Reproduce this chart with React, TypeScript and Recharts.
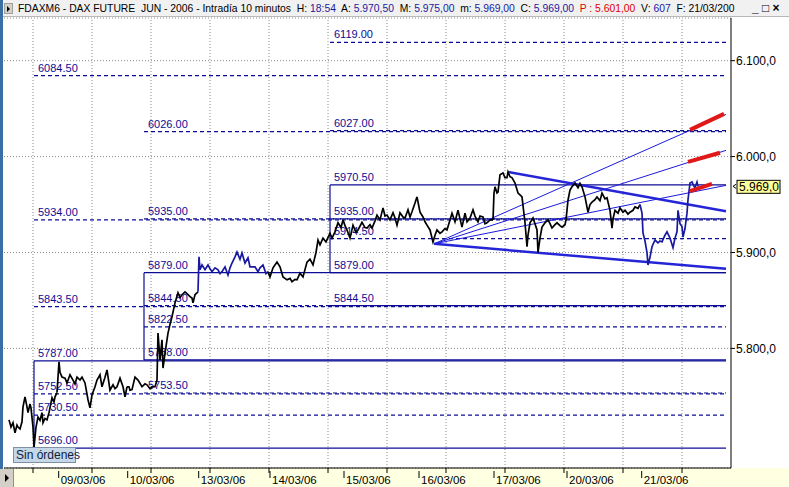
import React from 'react';
import { ComposedChart, Line, XAxis, YAxis, CartesianGrid, ReferenceLine, ReferenceDot } from 'recharts';

const FONT = '"Liberation Sans", Arial, sans-serif';

// ---------- axis data ----------
const dateTicks = [58.7, 127.7, 198.7, 270, 344, 419, 494, 567, 641.7];
const dateLabels = ['09/03/06', '10/03/06', '13/03/06', '14/03/06', '15/03/06', '16/03/06', '17/03/06', '20/03/06', '21/03/06'];
const gridTimes = [33, 92, 151, 210, 269, 328, 387, 446, 505, 564, 623, 682];
const priceTicks = [5800, 5900, 6000, 6100];

// ---------- price trace (time slot, price) per session ----------
const s0803 = [[9,5725.5],[11,5718],[13,5722.5],[15,5712],[17,5720],[18,5718],[20,5716],[22,5723.5],[23,5739],[25,5749.5],[27,5739],[28,5733],[30,5742],[31,5738],[33,5718],[34,5697],[36,5718],[38,5728.5],[40,5725],[42,5733],[43,5722.5],[45,5727],[47,5725.5],[49,5733],[52,5748.5],[54,5744],[55,5749.5],[57,5754]];
const s0903 = [[59,5786],[60,5775],[62,5770],[65,5769],[67,5764],[70,5772.5],[73,5767],[75,5763],[77,5770],[80,5767],[82,5770],[85,5764],[88,5746.5],[90,5738],[92,5751.5],[95,5760],[97,5767],[100,5772.5],[102,5760],[105,5770],[107,5777.5],[110,5756.5],[113,5762],[115,5758],[117,5760],[120,5769],[123,5760],[125,5749.5],[127,5760]];
const s1003 = [[129,5760],[130,5756.5],[132,5757],[135,5770],[138,5767],[142,5760],[145,5763],[147,5762],[150,5758],[152,5760],[155,5760],[157,5767],[158,5816],[160,5788],[162,5809],[163,5779.5],[165,5795],[168,5816],[170,5825],[172,5833],[175,5847.5],[178,5858],[180,5853],[182,5856],[185,5859],[188,5856],[190,5854],[192,5852.5],[193,5847.5],[195,5856],[198,5859]];
const s1303 = [[199,5895.5],[200,5882],[202,5887],[205,5882],[208,5887],[210,5883],[212,5880],[215,5884],[218,5882],[220,5878],[222,5880],[225,5885],[228,5876.5],[230,5884],[232,5889],[235,5895.5],[237,5900.5],[240,5893],[242,5899.5],[245,5889],[248,5894.5],[250,5885],[252,5885],[255,5885],[258,5880],[260,5884],[263,5887],[266,5878],[268,5880]];
const s1403 = [[270,5874.5],[273,5884],[277,5890],[280,5885],[283,5874.5],[287,5871.5],[290,5873],[292,5869.5],[295,5872],[297,5871.5],[300,5878.5],[303,5874.5],[307,5890],[310,5893],[313,5887],[316,5900],[318,5913],[320,5908],[323,5915],[326,5911],[330,5920],[332,5915],[335,5921.5],[338,5931],[341,5926],[343,5934]];
const s1503 = [[345,5928],[347,5923.5],[350,5915],[353,5928.5],[356,5921],[358,5923.5],[362,5931.5],[365,5926],[367,5925.5],[370,5929],[372,5925.5],[375,5933],[377,5939],[380,5934],[383,5946.5],[385,5938],[387,5939],[390,5934],[393,5941.5],[395,5936],[397,5928.5],[400,5941.5],[403,5937],[405,5936],[408,5944.5],[410,5937],[412,5942.5],[415,5951.5],[417,5958]];
const s1603 = [[420,5942],[423,5937],[425,5932],[427,5928.5],[430,5923.5],[433,5911],[435,5918],[437,5923.5],[440,5920],[442,5921.5],[445,5925],[447,5923.5],[450,5934],[452,5941],[455,5932],[458,5944],[460,5935],[462,5926.5],[465,5941],[467,5932],[470,5936],[473,5944.5],[475,5938],[478,5932],[480,5938],[483,5937],[485,5930],[487,5931],[490,5934],[493,5934]];
const s1703 = [[494,5962],[495,5968.5],[497,5962],[498,5963],[500,5981],[503,5983],[505,5978],[507,5978],[508,5984],[510,5979],[512,5978],[515,5972.5],[518,5962],[520,5960],[522,5958],[524,5940],[525,5931],[527,5906],[528,5918],[530,5931],[533,5936],[535,5930],[537,5923.5],[538,5900],[540,5915],[542,5926.5],[545,5931],[548,5934],[550,5930],[552,5925.5],[555,5929],[557,5931],[560,5928],[562,5926.5],[565,5929],[566,5934]];
const s2003 = [[568,5954.5],[570,5965],[572,5968.5],[575,5972.5],[578,5967.5],[580,5972],[582,5968.5],[585,5958],[588,5942],[590,5950],[592,5952.5],[595,5955],[597,5958],[600,5954],[602,5962],[605,5956],[607,5957],[610,5944],[612,5925.5],[613,5935],[615,5944],[618,5941],[620,5946.5],[623,5942],[625,5944],[628,5940],[630,5942],[633,5944],[635,5947.5],[638,5946],[640,5950]];
const s2103 = [[642,5941],[643,5920.5],[645,5912],[647,5900],[648,5887],[650,5895],[652,5906],[655,5913],[658,5910],[660,5912],[662,5911],[665,5918],[667,5921.5],[670,5915],[673,5905],[675,5915],[677,5921.5],[678,5944],[680,5930],[682,5927],[683,5916],[685,5925],[687,5941],[688,5955],[690,5972.5],[692,5973.5],[694,5969],[695,5967.5],[697,5973.5],[698,5969]];

const sessionNames = ['08/03/06', '09/03/06', '10/03/06', '13/03/06', '14/03/06', '15/03/06', '16/03/06', '17/03/06', '20/03/06', '21/03/06'];
const sessionTrades = [s0803, s0903, s1003, s1303, s1403, s1503, s1603, s1703, s2003, s2103];
const blueSessions = ['13/03/06', '21/03/06'];

// ---------- retracement boxes ----------
const boxStarts = [34, 144, 330];
const boxHighs = [5787, 5879, 5970.5];
const boxLows = [5696, 5788, 5879];
const boxLevels = [
  [6084.5, 5934, 5843.5, 5752.5, 5730.5],
  [6026, 5935, 5844.5, 5822.5, 5753.5],
  [6119, 6027, 5935, 5914.5, 5844.5],
];
const levelEnd = 726;

// ---------- trend lines ----------
const fanOrigin = [434, 5909];
const fanEnds = [[726, 6044], [726, 6006.5], [726, 5970]];
const wedgeUpper = [[508, 5984], [726, 5943]];
const wedgeLower = [[434, 5909], [726, 5883]];
const redMarks = [
  [[690, 6027.8], [724, 6044.5]],
  [[688, 5994.5], [720, 6004]],
  [[690, 5964], [712, 5971.5]],
];

const NAVY = '#0c0c94';

const fmtPrice = (v: number) => {
  const i = Math.round(v);
  return `${Math.floor(i / 1000)}.${String(i % 1000).padStart(3, '0')},0`;
};

const xTickValues = [...gridTimes, ...dateTicks].sort((a, b) => a - b);

const XTick = (props: any) => {
  const { x, y, payload } = props;
  const idx = dateTicks.indexOf(payload.value);
  if (idx < 0) return <line x1={x} x2={x} y1={y} y2={y + 5} stroke="#000" strokeWidth={1} />;
  return (
    <g>
      <line x1={x} x2={x} y1={y + 3} y2={y + 10} stroke="#000" strokeWidth={1} />
      <text x={x + 2} y={y + 16} fontSize={11.5} fontFamily={FONT} fill="#000">{dateLabels[idx]}</text>
    </g>
  );
};

const levelLabel = (text: string) => (p: any) => {
  const vb = p.viewBox || {};
  return (
    <text x={vb.x + 4} y={vb.y - 4} fontSize={11} fontFamily={FONT} fill={NAVY}>{text}</text>
  );
};

const PriceTag = (props: any) => {
  const { cx, cy, value } = props;
  return (
    <g>
      <path d={`M${cx + 5} ${cy - 2} L${cx + 2} ${cy} L${cx + 5} ${cy + 2}`} stroke="#000" fill="none" strokeWidth={1} />
      <rect x={cx + 6} y={cy - 6} width={43} height={13} fill="#ffff9c" stroke="#000" strokeWidth={1} />
      <text x={cx + 8} y={cy + 4.5} fontSize={12} fontFamily={FONT} fill="#000">{fmtPrice(value)}</text>
    </g>
  );
};

const lastSession = sessionTrades[sessionTrades.length - 1];
const lastPrice = lastSession[lastSession.length - 1][1];

export default function App() {
  const sessionLines = sessionTrades.map((pts, i) => {
    const prev = i > 0 ? [sessionTrades[i - 1][sessionTrades[i - 1].length - 1]] : [];
    const data = [...prev, ...pts].map(([t, p]) => ({ t, p }));
    const color = blueSessions.includes(sessionNames[i]) ? '#1818a0' : '#000000';
    return (
      <Line key={'s' + i} data={data} dataKey="p" type="linear" stroke={color} strokeWidth={1.7}
        dot={false} isAnimationActive={false} />
    );
  });

  const lvlLines: any[] = [];
  boxStarts.forEach((start, b) => {
    lvlLines.push(
      <ReferenceLine key={'bh' + b} segment={[{ x: start, y: boxHighs[b] }, { x: levelEnd, y: boxHighs[b] }]}
        stroke={NAVY} strokeWidth={1.2} label={levelLabel(boxHighs[b].toFixed(2))} />,
      <ReferenceLine key={'bl' + b} segment={[{ x: start, y: boxLows[b] }, { x: levelEnd, y: boxLows[b] }]}
        stroke={NAVY} strokeWidth={1.2} label={levelLabel(boxLows[b].toFixed(2))} />,
      <ReferenceLine key={'bv' + b} segment={[{ x: start, y: boxLows[b] }, { x: start, y: boxHighs[b] }]}
        stroke={NAVY} strokeWidth={1.2} />,
    );
    boxLevels[b].forEach((v, j) => {
      lvlLines.push(
        <ReferenceLine key={'lv' + b + '_' + j} segment={[{ x: start, y: v }, { x: levelEnd, y: v }]}
          stroke={NAVY} strokeWidth={1.2} strokeDasharray="4 3" label={levelLabel(v.toFixed(2))} />,
      );
    });
  });

  return (
    <div style={{ position: 'fixed', left: 0, top: 0, width: 789, height: 487, overflow: 'hidden', background: '#fff', fontFamily: FONT }}>
      {/* bottom axis band */}
      <div style={{ position: 'absolute', left: 0, top: 468, width: 789, height: 19, background: '#ffffe1' }} />
      <div style={{ position: 'absolute', left: 0, top: 0 }}>
        <ComposedChart width={789} height={487} margin={{ top: 18, left: 4, right: 0, bottom: 0 }}>
          <CartesianGrid vertical={false} stroke="#8a8a8a" strokeDasharray="1 2" />
          <XAxis type="number" dataKey="t" domain={[4, 731]} allowDataOverflow ticks={xTickValues} interval={0}
            tick={<XTick />} tickLine={false} tickSize={0} tickMargin={0} height={19} axisLine={{ stroke: '#000' }} />
          <YAxis orientation="right" type="number" domain={[5675.3, 6144.5]} allowDataOverflow ticks={priceTicks}
            tickFormatter={fmtPrice} width={58} tickSize={4} tickMargin={1}
            tick={{ fontSize: 12, fill: '#000', fontFamily: FONT }} tickLine={{ stroke: '#000' }} axisLine={{ stroke: '#000' }} />
          {gridTimes.map((g) => (
            <ReferenceLine key={'g' + g} x={g} stroke="#8a8a8a" strokeDasharray="1 2" />
          ))}
          {lvlLines}
          {fanEnds.map((e, i) => (
            <ReferenceLine key={'fan' + i} segment={[{ x: fanOrigin[0], y: fanOrigin[1] }, { x: e[0], y: e[1] }]}
              stroke="#1a1ae0" strokeWidth={1} />
          ))}
          <ReferenceLine segment={[{ x: wedgeUpper[0][0], y: wedgeUpper[0][1] }, { x: wedgeUpper[1][0], y: wedgeUpper[1][1] }]}
            stroke="#2525d8" strokeWidth={2.5} />
          <ReferenceLine segment={[{ x: wedgeLower[0][0], y: wedgeLower[0][1] }, { x: wedgeLower[1][0], y: wedgeLower[1][1] }]}
            stroke="#2525d8" strokeWidth={2.5} />
          {sessionLines}
          {redMarks.map((m, i) => (
            <Line key={'red' + i} data={m.map(([t, p]) => ({ t, p }))} dataKey="p" stroke="#e01818" strokeWidth={4}
              dot={false} isAnimationActive={false} />
          ))}
          <ReferenceDot x={731} y={lastPrice} r={0} ifOverflow="visible"
            shape={(p: any) => <PriceTag {...p} value={lastPrice} />} />
        </ComposedChart>
      </div>
      {/* title bar */}
      <div style={{ position: 'absolute', left: 0, top: 0, width: 789, height: 17, background: '#f1f1f1', borderBottom: '1px solid #b8b8b8', boxSizing: 'border-box' }} />
      <div style={{ position: 'absolute', left: 4, top: 3, width: 9, height: 11, background: '#d4d0c8', border: '1px solid #a0a0a0', boxSizing: 'border-box' }}>
        <div style={{ position: 'absolute', left: 2, top: 2, width: 0, height: 0, borderTop: '3px solid transparent', borderBottom: '3px solid transparent', borderLeft: '3px solid #000' }} />
      </div>
      <div style={{ position: 'absolute', left: 18, top: 2, whiteSpace: 'pre', fontSize: 10.35, lineHeight: '14px', color: '#000' }}>
        <span>FDAXM6 - DAX FUTURE  JUN - 2006 - Intradía 10 minutos  H: </span>
        <span style={{ color: '#1a1aa0' }}>18:54</span>
        <span>  A: </span><span style={{ color: '#1a1aa0' }}>5.970,50</span>
        <span>  M: </span><span style={{ color: '#1a1aa0' }}>5.975,00</span>
        <span>  m: </span><span style={{ color: '#1a1aa0' }}>5.969,00</span>
        <span>  C: </span><span style={{ color: '#1a1aa0' }}>5.969,00</span>
        <span style={{ color: '#e00000' }}>  P : 5.601,00</span>
        <span>  V: </span><span style={{ color: '#1a1aa0' }}>607</span>
        <span>  F: 21/03/200</span>
      </div>
      <div style={{ position: 'absolute', left: 752, top: 1, fontSize: 12, lineHeight: '14px', color: '#000', whiteSpace: 'pre', fontWeight: 'bold' }}>
        <span>_ </span><span>□ </span><span>×</span>
      </div>
      {/* left window border */}
      <div style={{ position: 'absolute', left: 0, top: 0, width: 3, height: 487, background: '#3a6ea5' }} />
      {/* bottom-left axis button */}
      <div style={{ position: 'absolute', left: 0, top: 469, width: 14, height: 18, background: '#d4d0c8', borderRight: '1px solid #909090', boxSizing: 'border-box' }}>
        <div style={{ position: 'absolute', left: 5, top: 5, width: 0, height: 0, borderTop: '4px solid transparent', borderBottom: '4px solid transparent', borderLeft: '4px solid #000' }} />
      </div>
      {/* status box */}
      <div style={{ position: 'absolute', left: 13, top: 447, width: 63, height: 16, background: '#c6d7e8', border: '1px solid #7f8fa6', boxSizing: 'border-box', fontSize: 12, lineHeight: '14px', color: '#0d2140', paddingLeft: 2, whiteSpace: 'nowrap' }}>
        Sin órdenes
      </div>
    </div>
  );
}
